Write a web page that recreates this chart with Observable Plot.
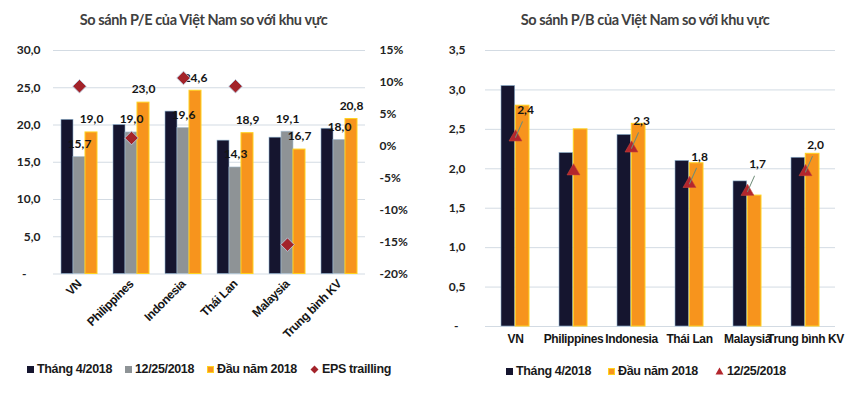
<!DOCTYPE html>
<html><head><meta charset="utf-8">
<script src="https://cdn.jsdelivr.net/npm/d3@7"></script>
<script src="https://cdn.jsdelivr.net/npm/@observablehq/plot@0.6"></script>
<style>
html,body{margin:0;padding:0;background:#fff;}
#wrap{position:relative;width:860px;height:399px;overflow:hidden;background:#fff;}
.title{position:absolute;top:11px;font:bold 14.5px Lato, sans-serif;letter-spacing:-0.4px;color:#404040;white-space:nowrap;text-align:center;}
.chart{position:absolute;top:38px;}
.legend{position:absolute;display:flex;align-items:center;gap:13px;font:bold 12.5px "Liberation Sans", Arial, sans-serif;letter-spacing:-0.35px;color:#1a1a1a;white-space:nowrap;}
.legend .it{display:flex;align-items:center;gap:3px;}
.sw{display:inline-block;width:7px;height:7px;}
g[aria-label="x-axis tick label"] text{letter-spacing:-0.4px;}
</style></head>
<body><div id="wrap">
<div class="title" style="left:0px;width:407px">So sánh P/E của Việt Nam so với khu vực</div>
<div class="title" style="left:430px;width:430px">So sánh P/B của Việt Nam so với khu vực</div>
<div class="chart" id="pe" style="left:0px"></div>
<div class="chart" id="pb" style="left:420px"></div>
<div class="legend" id="legPE" style="left:27px;top:362px"></div>
<div class="legend" id="legPB" style="left:506px;top:364px;gap:17px"></div>
</div>
<script>
// ---- data: P/E chart ----
const peCategories = ["VN", "Philippines", "Indonesia", "Thái Lan", "Malaysia", "Trung bình KV"];
const peApr2018 = [20.7, 20.0, 21.8, 17.9, 18.3, 19.5];
const peDec2018 = [15.7, 19.0, 19.6, 14.3, 19.1, 18.0];
const peStart2018 = [19.0, 23.0, 24.6, 18.9, 16.7, 20.8];
const epsTrailing = [9.4, 1.3, 10.7, 9.4, -15.4, null];
const peTicks = [0, 5, 10, 15, 20, 25, 30];
const epsTicks = [-20, -15, -10, -5, 0, 5, 10, 15];

// ---- data: P/B chart ----
const pbCategories = ["VN", "Philippines", "Indonesia", "Thái Lan", "Malaysia", "Trung bình KV"];
const pbApr2018 = [3.05, 2.2, 2.43, 2.1, 1.84, 2.14];
const pbStart2018 = [2.8, 2.5, 2.57, 2.07, 1.66, 2.19];
const pbDec2018 = [2.4, 1.97, 2.26, 1.81, 1.71, 1.96];
const pbLabelShown = [true, false, true, true, true, true];
const pbTicks = [0, 0.5, 1, 1.5, 2, 2.5, 3, 3.5];

const seriesNames = {apr: "Tháng 4/2018", dec: "12/25/2018", start: "Đầu năm 2018", eps: "EPS trailling"};
const C = {dark: "#15152f", gray: "#8e9396", orange: "#f7941d", red: "#a3232a", tri: "#b3262d", grid: "#d3dbe3"};

const fmt1 = v => d3.format(".1f")(v).replace(".", ",");
const peMax = peTicks[peTicks.length - 1];
const epsMin = epsTicks[0], epsMax = epsTicks[epsTicks.length - 1];
const toPE = p => (p - epsMin) / (epsMax - epsMin) * peMax;
const toEps = v => epsMin + v / peMax * (epsMax - epsMin);

const peRows = peCategories.map((c, i) => ({c, apr: peApr2018[i], dec: peDec2018[i], start: peStart2018[i], eps: epsTrailing[i]}));
const pbRows = pbCategories.map((c, i) => ({c, apr: pbApr2018[i], start: pbStart2018[i], dec: pbDec2018[i], show: pbLabelShown[i]}));

const tickFont = {fontFamily: "Lato, sans-serif", fontWeight: "bold", fontSize: 12};
const labelFont = {fontFamily: "Lato, sans-serif", fontWeight: "bold", fontSize: 12, fill: "#141414"};
const catFont = {fontFamily: "Liberation Sans, Arial, sans-serif", fontWeight: "bold", fontSize: 12, color: "#151515"};

const pe = Plot.plot({
  width: 420, height: 318,
  marginTop: 12, marginBottom: 82.5, marginLeft: 53, marginRight: 55,
  style: {background: "transparent", color: "#222"},
  x: {domain: peCategories, padding: 0, label: null},
  y: {domain: [0, peMax], label: null},
  marks: [
    Plot.gridY(peTicks, {stroke: C.grid, strokeOpacity: 1}),
    Plot.barY(peRows, {x: "c", y: "apr", fill: C.dark, stroke: "#8fb3d0", strokeWidth: 0.6, insetLeft: 8, insetRight: 32}),
    Plot.barY(peRows, {x: "c", y: "dec", fill: C.gray, stroke: "#a9c2d6", strokeWidth: 0.6, insetLeft: 20, insetRight: 20}),
    Plot.barY(peRows, {x: "c", y: "start", fill: C.orange, stroke: "#ffd21f", strokeWidth: 1, insetLeft: 32, insetRight: 8}),
    Plot.text(peRows, {x: "c", y: "dec", text: d => fmt1(d.dec), dy: -13, ...labelFont}),
    Plot.text(peRows, {x: "c", y: "start", text: d => fmt1(d.start), dx: 12, dy: -13, ...labelFont}),
    Plot.dot(peRows.filter(d => d.eps != null), {x: "c", y: d => toPE(d.eps), symbol: "square", r: 5.4, rotate: 45, fill: C.red, stroke: "#b9d0e4", strokeWidth: 0.8}),
    Plot.axisY(peTicks, {anchor: "left", tickSize: 0, tickPadding: 13, label: null, tickFormat: v => v === 0 ? "-\u2007\u2007" : fmt1(v), ...tickFont}),
    Plot.axisY(epsTicks.map(toPE), {anchor: "right", tickSize: 0, tickPadding: 14, label: null, tickFormat: v => Math.round(toEps(v)) + "%", ...tickFont}),
    Plot.axisX({anchor: "bottom", tickSize: 0, tickPadding: 8, tickRotate: -45, label: null, ...catFont})
  ]
});
document.getElementById("pe").appendChild(pe);

function pbMarks(withLeader) {
  const m = [
    Plot.gridY(pbTicks, {stroke: C.grid, strokeOpacity: 1}),
    Plot.barY(pbRows, {x: "c", y: "apr", fill: C.dark, stroke: "#8fb3d0", strokeWidth: 0.6, insetLeft: 15, insetRight: 29.3}),
    Plot.barY(pbRows, {x: "c", y: "start", fill: C.orange, stroke: "#ffd21f", strokeWidth: 1, insetLeft: 29.3, insetRight: 15}),
    Plot.dot(pbRows, {x: "c", y: "dec", symbol: "triangle", r: 4.8, fill: C.tri, stroke: "#c8453a", strokeWidth: 0.6})
  ];
  if (withLeader) {
    m.push(Plot.vector(pbRows.filter(d => d.show), {x: "c", y: "dec", length: 17, rotate: 24, anchor: "start", stroke: "#6f8c78", strokeWidth: 1,
      shape: {draw(ctx, l) { ctx.moveTo(0, 0); ctx.lineTo(0, -l); }}}));
  }
  m.push(
    Plot.text(pbRows.filter(d => d.show), {x: "c", y: "dec", text: d => fmt1(d.dec), dx: 10, dy: -27, ...labelFont}),
    Plot.axisY(pbTicks, {anchor: "left", tickSize: 0, tickPadding: 20, label: null, tickFormat: v => v === 0 ? "-\u2007" : fmt1(v), ...tickFont}),
    Plot.axisX({anchor: "bottom", tickSize: 0, tickPadding: 8, label: null, ...catFont})
  );
  return m;
}
function pbPlot(withLeader) {
  return Plot.plot({
    width: 440, height: 318,
    marginTop: 12, marginBottom: 30, marginLeft: 65, marginRight: 25,
    style: {background: "transparent", color: "#222"},
    x: {domain: pbCategories, padding: 0, label: null},
    y: {domain: [0, 3.5], label: null},
    marks: pbMarks(withLeader)
  });
}
let pb;
try { pb = pbPlot(true); } catch (e) { pb = pbPlot(false); }
document.getElementById("pb").appendChild(pb);

// ---- legends ----
function legend(el, items) {
  const root = document.getElementById(el);
  items.forEach(it => {
    const d = document.createElement("span");
    d.className = "it";
    d.innerHTML = it.sw + "<span>" + it.label + "</span>";
    root.appendChild(d);
  });
}
const sq = (fill, stroke) => `<span class="sw" style="background:${fill};${stroke ? "outline:1px solid " + stroke + ";outline-offset:-1px" : ""}"></span>`;
const diamond = fill => `<svg width="9" height="9" viewBox="0 0 9 9"><path d="M4.5 0.5 L8.5 4.5 L4.5 8.5 L0.5 4.5Z" fill="${fill}"/></svg>`;
const tri = fill => `<svg width="9" height="8" viewBox="0 0 9 8"><path d="M4.5 0.5 L8.5 7.5 L0.5 7.5Z" fill="${fill}"/></svg>`;
legend("legPE", [
  {sw: sq(C.dark), label: seriesNames.apr},
  {sw: sq(C.gray), label: seriesNames.dec},
  {sw: sq(C.orange, "#ffd21f"), label: seriesNames.start},
  {sw: diamond(C.red), label: seriesNames.eps}
]);
legend("legPB", [
  {sw: sq(C.dark), label: seriesNames.apr},
  {sw: sq(C.orange, "#ffd21f"), label: seriesNames.start},
  {sw: tri(C.tri), label: seriesNames.dec}
]);
</script>
</body></html>
